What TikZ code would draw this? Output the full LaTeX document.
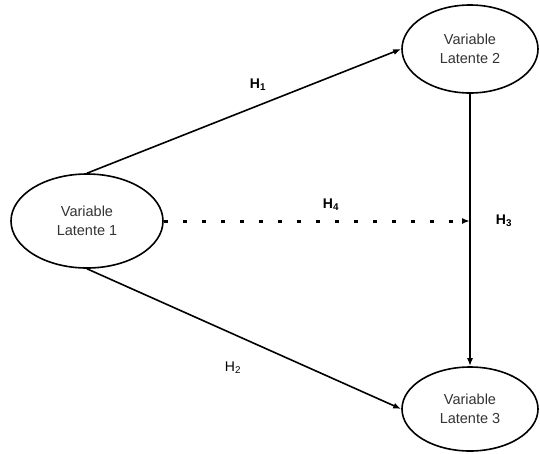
\documentclass[tikz,border=0pt]{standalone}
\usepackage{fontspec}
\setmainfont{Liberation Sans}
\usetikzlibrary{shapes.geometric,arrows.meta}
\tikzset{
  latent/.style={draw=black, line width=1.6pt, ellipse, inner sep=0pt, align=center, font=\fontsize{14.5}{19}\selectfont, text=black!80},
  path/.style={line width=1.6pt, -{Latex[length=8pt,width=6pt]}},
  dotpath/.style={line width=3pt, dash pattern=on 4pt off 15pt, -{Latex[length=8pt,width=6pt]}},
  hlabel/.style={font=\fontsize{14}{16}\selectfont\bfseries}
}
\begin{document}
\begin{tikzpicture}[x=1pt,y=-1pt]
\useasboundingbox (0,0) rectangle (540,453);
\node[latent, minimum width=152pt, minimum height=94pt] (e1) at (87,221) {Variable\\Latente 1};
\node[latent, minimum width=136pt, minimum height=88pt] (e2) at (470,49) {Variable\\Latente 2};
\node[latent, minimum width=136pt, minimum height=84pt] (e3) at (470,409) {Variable\\Latente 3};
\coordinate (m) at (e2.south |- e1.east);
\draw[path] (e1.north) -- (e2.west);
\draw[path] (e1.south) -- (e3.west);
\draw[path] (e2.south) -- (e3.north);
\draw[dotpath] (e1.east) -- (m);
\node[hlabel] (h1) at (258,85) {H\textsubscript{1}};
\node[hlabel] (h4) at (331,205) {H\textsubscript{4}};
\node[hlabel] (h3) at (504,221) {H\textsubscript{3}};
\node[font=\fontsize{14}{16}\selectfont] (h2) at (233,368) {H\textsubscript{2}};
\end{tikzpicture}
\end{document}
